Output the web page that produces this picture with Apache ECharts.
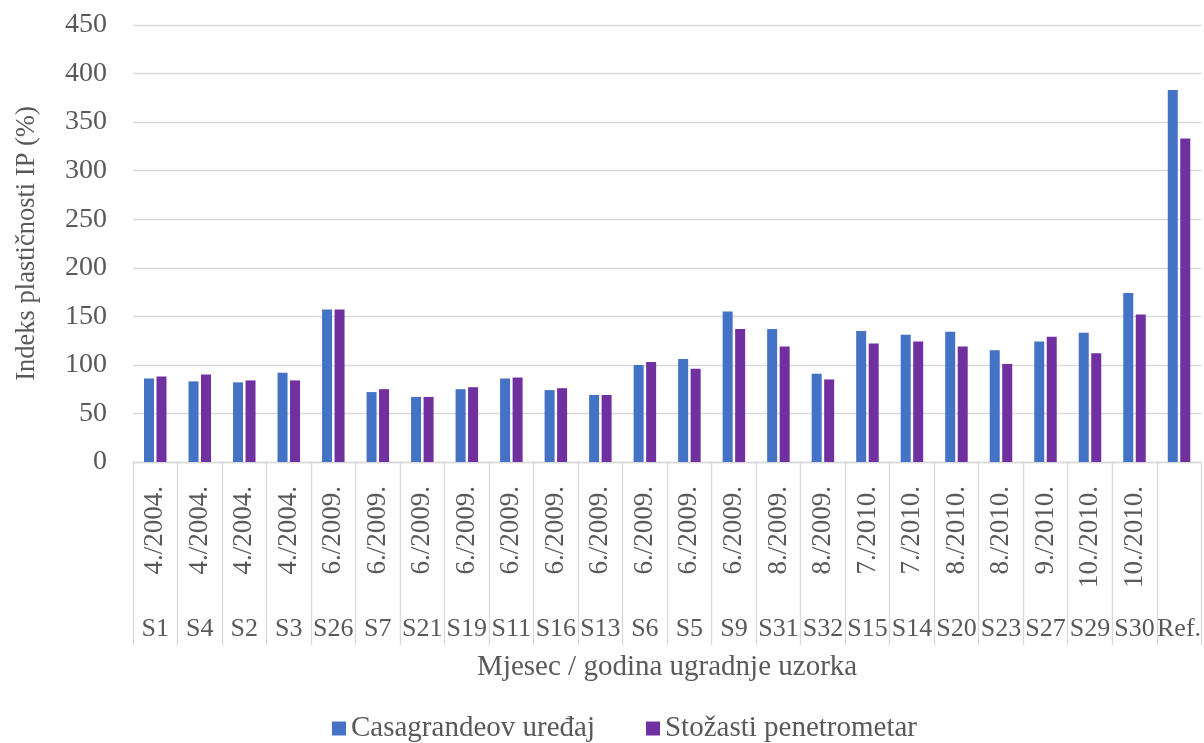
<!DOCTYPE html>
<html>
<head>
<meta charset="utf-8">
<script src="https://cdn.jsdelivr.net/npm/echarts@6/dist/echarts.min.js"></script>
<style>html,body{margin:0;padding:0;background:#fff}#c{width:1204px;height:743px}</style>
</head>
<body>
<div id="c"></div>
<script>
const samples = ['S1','S4','S2','S3','S26','S7','S21','S19','S11','S16','S13','S6','S5','S9','S31','S32','S15','S14','S20','S23','S27','S29','S30','Ref.'];
const dates = ['4./2004.','4./2004.','4./2004.','4./2004.','6./2009.','6./2009.','6./2009.','6./2009.','6./2009.','6./2009.','6./2009.','6./2009.','6./2009.','6./2009.','8./2009.','8./2009.','7./2010.','7./2010.','8./2010.','8./2010.','9./2010.','10./2010.','10./2010.',''];
const casagrande = [86,83,82,92,157,72,67,75,86,74,69,100,106,155,137,91,135,131,134,115,124,133,174,383];
const stozasti = [88,90,84,84,157,75,67,77,87,76,69,103,96,137,119,85,122,124,119,101,129,112,152,333];
const yTicks = {min:0,max:450,interval:50};

const FONT = '"Liberation Serif","Times New Roman",serif';
const TXT = '#595959';
const chart = echarts.init(document.getElementById('c'));
chart.setOption({
  animation:false,
  textStyle:{fontFamily:FONT},
  grid:{left:133,right:1,top:25,bottom:281,containLabel:false},
  legend:{
    top:709,left:327,icon:'rect',itemWidth:14,itemHeight:14,itemGap:51,
    textStyle:{fontFamily:FONT,fontSize:29,color:TXT},
    data:['Casagrandeov uređaj','Stožasti penetrometar']
  },
  xAxis:[{
    type:'category',data:dates,position:'bottom',
    axisLine:{lineStyle:{color:'#d9d9d9',width:1.3}},
    axisTick:{show:true,interval:0,length:183,lineStyle:{color:'#d9d9d9',width:1.3}},
    axisLabel:{interval:0,rotate:90,margin:24,fontFamily:FONT,fontSize:27,color:TXT},
    splitLine:{show:false}
  },{
    type:'category',data:samples,position:'bottom',offset:150,
    axisLine:{show:false},axisTick:{show:false},
    axisLabel:{interval:0,margin:4,fontFamily:FONT,fontSize:26,color:TXT},
    name:'Mjesec / godina ugradnje uzorka',nameLocation:'middle',nameGap:41,
    nameTextStyle:{fontFamily:FONT,fontSize:29,color:TXT}
  }],
  yAxis:{
    type:'value',min:yTicks.min,max:yTicks.max,interval:yTicks.interval,
    axisLine:{show:false},axisTick:{show:false},
    axisLabel:{margin:26,fontFamily:FONT,fontSize:28,color:TXT},
    splitLine:{lineStyle:{color:'#d9d9d9',width:1.3}},
    name:'Indeks plastičnosti IP (%)',nameLocation:'middle',nameGap:92,
    nameTextStyle:{fontFamily:FONT,fontSize:26.5,color:TXT}
  },
  series:[{
    name:'Casagrandeov uređaj',type:'bar',data:casagrande,xAxisIndex:0,
    barWidth:10,barGap:'25%',itemStyle:{color:'#4472C4'}
  },{
    name:'Stožasti penetrometar',type:'bar',data:stozasti,xAxisIndex:0,
    barWidth:10,barGap:'25%',itemStyle:{color:'#7030A0'}
  }]
});
</script>
</body>
</html>
